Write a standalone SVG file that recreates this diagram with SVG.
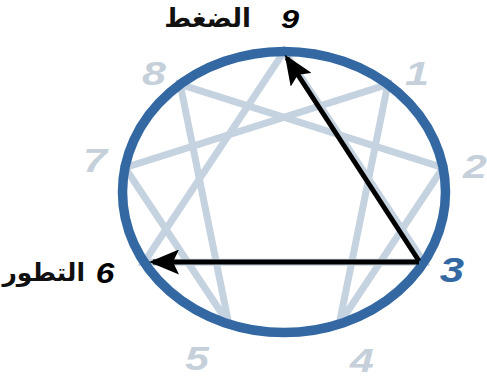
<svg xmlns="http://www.w3.org/2000/svg" width="487" height="378" viewBox="0 0 487 378">
<defs>
<style>
.lt{stroke:#c5d2df;stroke-width:7;fill:none;stroke-linecap:round}
.ring{stroke:#3368a3;stroke-width:9.5;fill:none}
.blk{stroke:#000;stroke-width:5;fill:none}
.num{font-family:"Liberation Sans",Arial,sans-serif;font-weight:bold;font-style:italic;text-anchor:middle}
.gray{fill:#c5d0db;font-size:33px}
.ar{font-family:"DejaVu Sans","Noto Sans",sans-serif;font-weight:bold;fill:#111;text-anchor:end}
</style>
<marker id="ah" markerWidth="6" markerHeight="5" refX="5.2" refY="2.5" orient="auto" markerUnits="strokeWidth">
<path d="M0,0 L6,2.5 L0,5 L1.2,2.5 Z" fill="#000"/>
</marker>
</defs>
<rect width="487" height="378" fill="#fff"/>
<g id="connectors">
<path class="lt" d="M387.8,84.4 L339.2,324 L443,167.6 L180.2,84.4 L228.8,324 L125,167.6 Z"/>
<path class="lt" d="M284,51.5 L423.9,262.3 L144.1,262.3 Z"/>
</g>
<g id="ring"><ellipse class="ring" cx="284" cy="192" rx="161.5" ry="140.5"/></g>
<g id="arrows">
<line class="blk" x1="419" y1="261" x2="287" y2="58" marker-end="url(#ah)"/>
<line class="blk" x1="419" y1="262" x2="153" y2="262" marker-end="url(#ah)"/>
</g>
<g id="n1"><text class="num gray" transform="translate(417,85) scale(1.3,1)">1</text></g>
<g id="n2"><text class="num gray" transform="translate(475,178) scale(1.3,1)">2</text></g>
<g id="n3"><text class="num" transform="translate(452,282) scale(1.25,1)" font-size="35" fill="#3368a3">3</text></g>
<g id="n4"><text class="num gray" transform="translate(362,372) scale(1.3,1)">4</text></g>
<g id="n5"><text class="num gray" transform="translate(197,370) scale(1.3,1)">5</text></g>
<g id="n6"><text class="num" transform="translate(105,283) scale(1.15,1)" font-size="29" fill="#000">6</text><text class="ar" x="85" y="281" font-size="25">التطور</text></g>
<g id="n7"><text class="num gray" transform="translate(95,172) scale(1.3,1)">7</text></g>
<g id="n8"><text class="num gray" transform="translate(154,85) scale(1.3,1)">8</text></g>
<g id="n9"><text class="num" transform="translate(290,28) scale(1.3,1)" font-size="25" fill="#000">9</text><text class="ar" x="251" y="27" font-size="26">الضغط</text></g>
</svg>
